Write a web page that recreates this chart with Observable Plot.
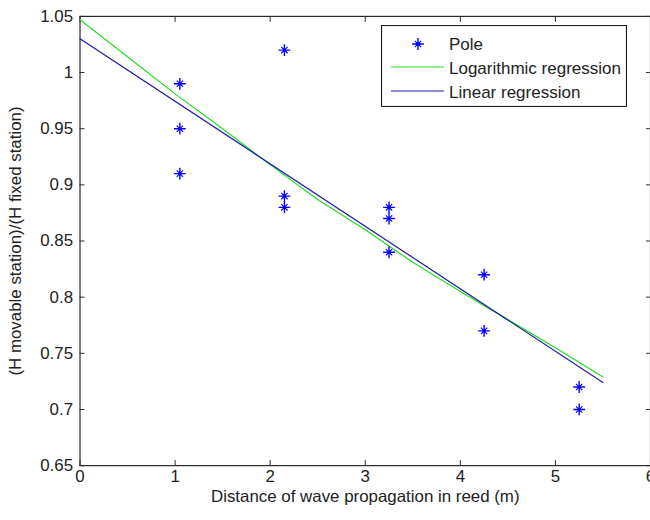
<!DOCTYPE html>
<html><head><meta charset="utf-8">
<script src="https://cdn.jsdelivr.net/npm/d3@7"></script>
<script src="https://cdn.jsdelivr.net/npm/@observablehq/plot@0.6"></script>
<style>
html,body{margin:0;padding:0;background:#fff;overflow:hidden;}
#wrap{position:relative;width:650px;height:520px;overflow:hidden;}
#legend{position:absolute;left:381px;top:25px;}
</style></head><body><div id="wrap"></div>
<script>
// ---- data ----
const poleX = [1.05, 1.05, 1.05, 2.15, 2.15, 2.15, 3.25, 3.25, 3.25, 4.25, 4.25, 5.25, 5.25];
const poleY = [0.99, 0.95, 0.91, 1.02, 0.89, 0.88, 0.88, 0.87, 0.84, 0.82, 0.77, 0.72, 0.70];
const logX = [0, 0.5, 1, 1.5, 2, 2.5, 3, 3.5, 4, 4.5, 5, 5.5];
const logY = [1.047, 1.014, 0.981, 0.950, 0.918, 0.887, 0.860, 0.831, 0.805, 0.780, 0.755, 0.729];
const linX = [0, 5.5];
const linY = [1.030, 0.724];
const xTicks = [0, 1, 2, 3, 4, 5, 6];
const yTicks = [0.65, 0.7, 0.75, 0.8, 0.85, 0.9, 0.95, 1, 1.05];
const seriesNames = ["Pole", "Logarithmic regression", "Linear regression"];
const xLabel = "Distance of wave propagation in reed (m)";
const yLabel = "(H movable station)/(H fixed station)";

const poles = poleX.map((x, i) => ({x, y: poleY[i]}));
const logData = logX.map((x, i) => ({x, y: logY[i]}));
const linData = linX.map((x, i) => ({x, y: linY[i]}));

const FONT = "'Liberation Sans', Arial, sans-serif";
const AX = "#2a2a2a";
const GREEN = "#22dd22", NAVY = "#1a1aa8", BLUE = "#0000ff";

const chart = Plot.plot({
  width: 654, height: 520,
  marginLeft: 80, marginRight: 0, marginTop: 16, marginBottom: 52,
  style: {fontFamily: FONT, fontSize: "17px", color: "#222", background: "#fff", overflow: "visible"},
  x: {domain: [0, 6]},
  y: {domain: [0.65, 1.05]},
  marks: [
    Plot.frame({stroke: AX, strokeWidth: 1.2}),
    Plot.axisX(xTicks, {anchor: "bottom", tickSize: -5, tickPadding: 9, stroke: AX, fill: "#222", fontSize: 17, label: null, tickFormat: d => String(d)}),
    Plot.axisX(xTicks, {anchor: "top", tickSize: -5, stroke: AX, label: null, tickFormat: () => ""}),
    Plot.axisY(yTicks, {anchor: "left", tickSize: -5, tickPadding: 12, stroke: AX, fill: "#222", fontSize: 17, label: null, tickFormat: d => String(d)}),
    Plot.axisY(yTicks, {anchor: "right", tickSize: -5, stroke: AX, label: null, tickFormat: () => ""}),
    Plot.line(logData, {x: "x", y: "y", stroke: GREEN, strokeWidth: 1.2}),
    Plot.line(linData, {x: "x", y: "y", stroke: NAVY, strokeWidth: 1.2}),
    Plot.dot(poles, {x: "x", y: "y", symbol: "plus", r: 3.9, stroke: BLUE, strokeWidth: 1.4}),
    Plot.dot(poles, {x: "x", y: "y", symbol: "times", r: 3.0, stroke: BLUE, strokeWidth: 1.1}),
    Plot.dot(poles, {x: "x", y: "y", r: 1.8, fill: BLUE, stroke: "none"}),
    Plot.text([xLabel], {frameAnchor: "bottom", dy: 37, fontSize: 17, fill: "#222"}),
    Plot.text([yLabel], {frameAnchor: "left", dx: -65, rotate: -90, textAnchor: "middle", fontSize: 17, fill: "#222"})
  ]
});
document.getElementById("wrap").appendChild(chart);

// ---- legend ----
const W = 246, H = 82;
const leg = d3.select("#wrap").append("svg").attr("id", "legend").attr("width", W).attr("height", H)
  .style("font-family", FONT).style("font-size", "17px");
leg.append("rect").attr("x", 0.5).attr("y", 0.5).attr("width", W - 1).attr("height", H - 1)
  .attr("fill", "#fff").attr("stroke", "#222").attr("stroke-width", 1.2);
const rowsY = [19, 43, 67];
const sg = leg.append("g").attr("transform", `translate(37,${rowsY[0]})`);
sg.append("path").attr("d", d3.symbol(d3.symbolPlus, Math.PI * 3.9 * 3.9)()).attr("stroke", BLUE).attr("stroke-width", 1.4).attr("fill", "none");
sg.append("path").attr("d", d3.symbol(d3.symbolTimes, Math.PI * 3 * 3)()).attr("stroke", BLUE).attr("stroke-width", 1.1).attr("fill", "none");
sg.append("circle").attr("r", 1.8).attr("fill", BLUE);
leg.append("line").attr("x1", 10).attr("x2", 63).attr("y1", rowsY[1] - 1).attr("y2", rowsY[1] - 1).attr("stroke", GREEN).attr("stroke-width", 1.2);
leg.append("line").attr("x1", 10).attr("x2", 63).attr("y1", rowsY[2] - 1).attr("y2", rowsY[2] - 1).attr("stroke", NAVY).attr("stroke-width", 1.2);
seriesNames.forEach((t, i) => {
  leg.append("text").attr("x", 68).attr("y", rowsY[i]).attr("dy", "0.35em").attr("fill", "#222").text(t);
});
</script>
</body></html>
